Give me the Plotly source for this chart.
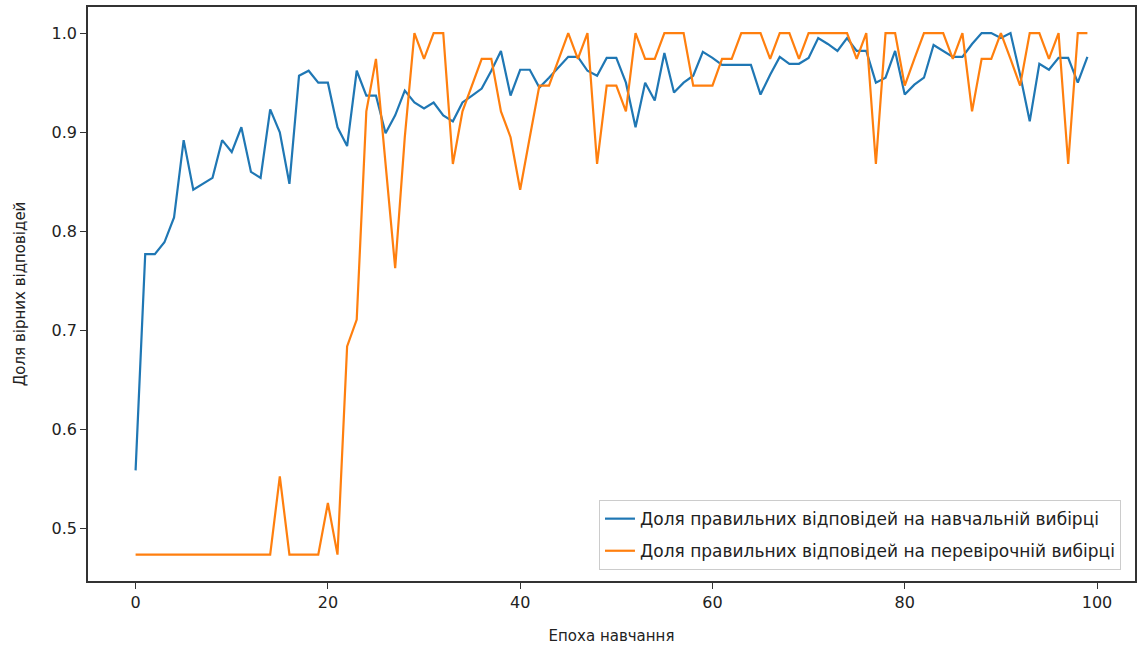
import plotly.graph_objects as go

epochs = list(range(100))

train_acc = [
    0.559, 0.777, 0.777, 0.789, 0.814, 0.892, 0.842, 0.848, 0.854, 0.892,
    0.880, 0.905, 0.860, 0.854, 0.923, 0.900, 0.848, 0.957, 0.962, 0.950,
    0.950, 0.905, 0.886, 0.962, 0.937, 0.937, 0.899, 0.917, 0.942, 0.930,
    0.924, 0.930, 0.917, 0.911, 0.930, 0.937, 0.944, 0.962, 0.982, 0.937,
    0.963, 0.963, 0.945, 0.955, 0.965, 0.976, 0.976, 0.962, 0.957, 0.975,
    0.975, 0.950, 0.905, 0.950, 0.932, 0.980, 0.940, 0.950, 0.957, 0.981,
    0.975, 0.968, 0.968, 0.968, 0.968, 0.938, 0.958, 0.976, 0.969, 0.969,
    0.975, 0.995, 0.989, 0.982, 0.995, 0.982, 0.982, 0.950, 0.955, 0.982,
    0.938, 0.948, 0.955, 0.988, 0.982, 0.976, 0.976, 0.989, 1.000, 1.000,
    0.995, 1.000, 0.958, 0.911, 0.969, 0.963, 0.975, 0.975, 0.950, 0.976,
]

val_acc = [
    0.474, 0.474, 0.474, 0.474, 0.474, 0.474, 0.474, 0.474, 0.474, 0.474,
    0.474, 0.474, 0.474, 0.474, 0.474, 0.553, 0.474, 0.474, 0.474, 0.474,
    0.526, 0.474, 0.684, 0.711, 0.921, 0.974, 0.868, 0.763, 0.895, 1.000,
    0.974, 1.000, 1.000, 0.868, 0.921, 0.947, 0.974, 0.974, 0.921, 0.895,
    0.842, 0.895, 0.947, 0.947, 0.974, 1.000, 0.974, 1.000, 0.868, 0.947,
    0.947, 0.921, 1.000, 0.974, 0.974, 1.000, 1.000, 1.000, 0.947, 0.947,
    0.947, 0.974, 0.974, 1.000, 1.000, 1.000, 0.974, 1.000, 1.000, 0.974,
    1.000, 1.000, 1.000, 1.000, 1.000, 0.974, 1.000, 0.868, 1.000, 1.000,
    0.947, 0.974, 1.000, 1.000, 1.000, 0.974, 1.000, 0.921, 0.974, 0.974,
    1.000, 0.974, 0.947, 1.000, 1.000, 0.974, 1.000, 0.868, 1.000, 1.000,
]

train_name = "Доля правильних відповідей на навчальній вибірці"
val_name = "Доля правильних відповідей на перевірочній вибірці"
x_title = "Епоха навчання"
y_title = "Доля вірних відповідей"
x_ticks = [0, 20, 40, 60, 80, 100]
y_ticks = [0.5, 0.6, 0.7, 0.8, 0.9, 1.0]

fig = go.Figure()
fig.add_trace(go.Scatter(x=epochs, y=train_acc, mode="lines", name=train_name,
                         legendgroup="a",
                         line=dict(color="#1f77b4", width=2.2)))
fig.add_trace(go.Scatter(x=epochs, y=val_acc, mode="lines", name=val_name,
                         legendgroup="b",
                         line=dict(color="#ff7f0e", width=2.2)))

font_family = "DejaVu Sans"
fig.update_layout(
    width=1142, height=652,
    margin=dict(l=88, r=5, t=6, b=71),
    paper_bgcolor="white", plot_bgcolor="white",
    font=dict(family=font_family, size=14, color="#222222"),
    showlegend=True,
    legend=dict(x=0.9866, y=0.019, xanchor="right", yanchor="bottom",
                bgcolor="white", bordercolor="#cccccc", borderwidth=1,
                font=dict(size=17, color="#222222"),
                tracegroupgap=7),
)
fig.update_xaxes(range=[-4.95, 103.95], tickvals=x_ticks,
                 showgrid=False, zeroline=False,
                 showline=True, linecolor="#333333", linewidth=1.5, mirror=True,
                 ticks="outside", ticklen=6, tickcolor="#333333",
                 tickfont=dict(size=16),
                 title=dict(text=x_title, font=dict(size=15), standoff=20))
fig.update_yaxes(range=[0.4474, 1.0263], tickvals=y_ticks, tickformat=".1f",
                 showgrid=False, zeroline=False,
                 showline=True, linecolor="#333333", linewidth=1.5, mirror=True,
                 ticks="outside", ticklen=6, tickcolor="#333333",
                 tickfont=dict(size=16),
                 title=dict(text=y_title, font=dict(size=15), standoff=22))

fig.write_html("out.html")
